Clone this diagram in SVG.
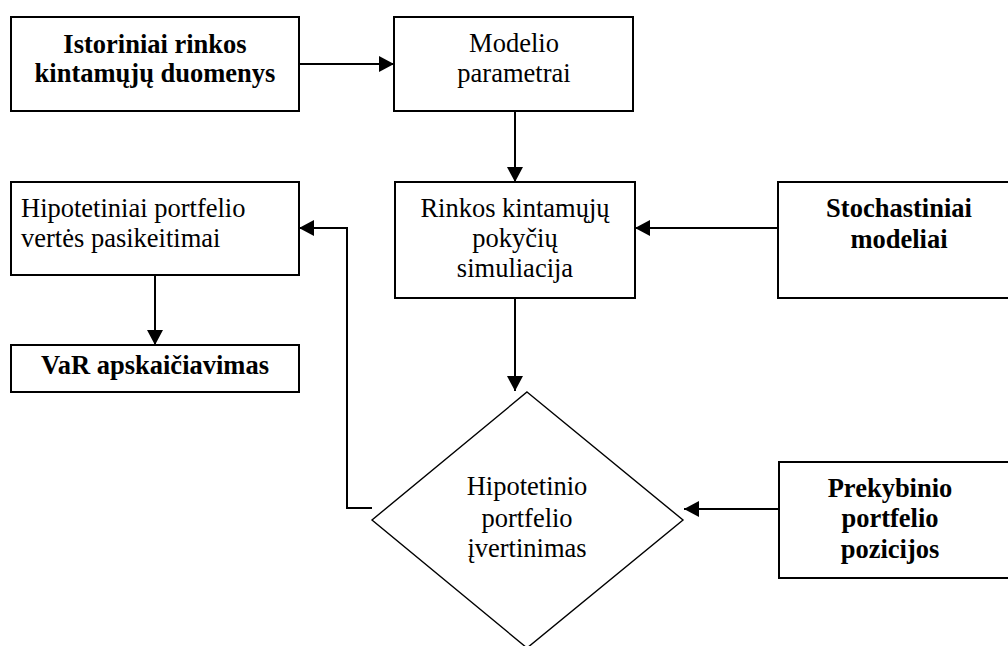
<svg xmlns="http://www.w3.org/2000/svg" width="1008" height="646" viewBox="0 0 1008 646">
  <style>
    .box { fill: #fff; stroke: #000; stroke-width: 2; }
    .dia { fill: #fff; stroke: #000; stroke-width: 1.4; }
    text { font-family: 'Liberation Serif', 'Times New Roman', Times, 'DejaVu Serif', serif; font-size: 26.5px; fill: #000; }
    .b { font-weight: bold; }
    .c { text-anchor: middle; }
    .edge { fill: none; stroke: #000; stroke-width: 2; }
  </style>
  <defs>
    <!-- filled triangular arrowhead shared by all connectors -->
    <marker id="arrow" markerUnits="userSpaceOnUse" markerWidth="16" markerHeight="17" refX="15" refY="8" orient="auto">
      <path d="M0,0 L15,8 L0,16 z" fill="#000"/>
    </marker>
  </defs>
  <rect width="1008" height="646" fill="#fff"/>

  <!-- connectors -->
  <g id="connectors">
    <line class="edge" x1="299" y1="64" x2="394" y2="64" marker-end="url(#arrow)"/>
    <line class="edge" x1="515" y1="111" x2="515" y2="182" marker-end="url(#arrow)"/>
    <line class="edge" x1="778" y1="228" x2="635" y2="228" marker-end="url(#arrow)"/>
    <line class="edge" x1="515" y1="298" x2="515" y2="391" marker-end="url(#arrow)"/>
    <polyline class="edge" points="372,508 347,508 347,228 299,228" marker-end="url(#arrow)"/>
    <line class="edge" x1="155" y1="275" x2="155" y2="345" marker-end="url(#arrow)"/>
    <line class="edge" x1="779" y1="509" x2="684" y2="509" marker-end="url(#arrow)"/>
  </g>

  <g id="historical-data">
    <rect class="box" x="11" y="17" width="288" height="94"/>
    <text class="b c" x="155" y="53">Istoriniai rinkos</text>
    <text class="b c" x="155" y="82">kintamųjų duomenys</text>
  </g>

  <g id="model-parameters">
    <rect class="box" x="394" y="17" width="239" height="94"/>
    <text class="c" x="514" y="52">Modelio</text>
    <text class="c" x="514" y="82">parametrai</text>
  </g>

  <g id="market-simulation">
    <rect class="box" x="395" y="182" width="240" height="116"/>
    <text class="c" x="515" y="217">Rinkos kintamųjų</text>
    <text class="c" x="515" y="247">pokyčių</text>
    <text class="c" x="515" y="277">simuliacija</text>
  </g>

  <g id="stochastic-models">
    <rect class="box" x="778" y="182" width="240" height="116"/>
    <text class="b c" x="899" y="217">Stochastiniai</text>
    <text class="b c" x="899" y="248">modeliai</text>
  </g>

  <g id="portfolio-changes">
    <rect class="box" x="11" y="182" width="288" height="93"/>
    <text x="21" y="217">Hipotetiniai portfelio</text>
    <text x="21" y="247">vertės pasikeitimai</text>
  </g>

  <g id="var-calculation">
    <rect class="box" x="11" y="345" width="288" height="47"/>
    <text class="b c" x="155" y="374">VaR apskaičiavimas</text>
  </g>

  <g id="portfolio-valuation">
    <polygon class="dia" points="527,392 683,520 527,648 372,520"/>
    <text class="c" x="527" y="495">Hipotetinio</text>
    <text class="c" x="527" y="527">portfelio</text>
    <text class="c" x="527" y="557">įvertinimas</text>
  </g>

  <g id="trading-positions">
    <rect class="box" x="779" y="462" width="240" height="116"/>
    <text class="b c" x="890" y="497">Prekybinio</text>
    <text class="b c" x="890" y="527">portfelio</text>
    <text class="b c" x="890" y="558">pozicijos</text>
  </g>
</svg>
